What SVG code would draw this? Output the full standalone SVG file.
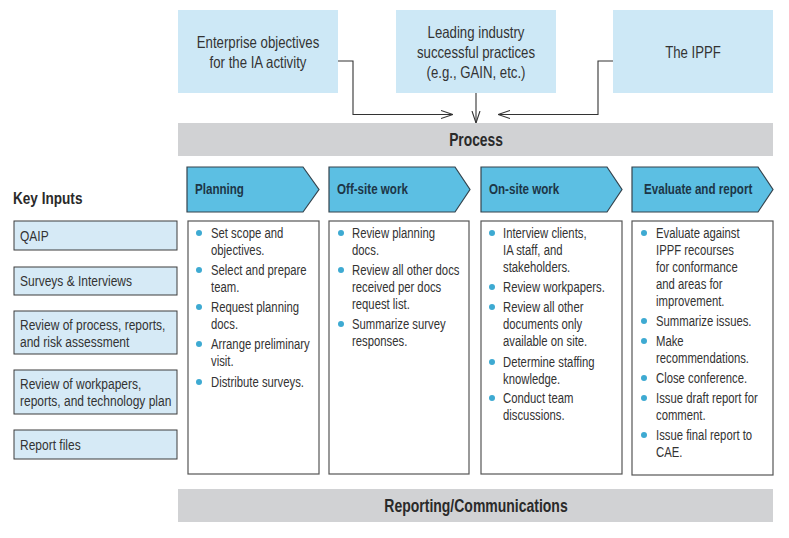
<svg xmlns="http://www.w3.org/2000/svg" width="789" height="538" viewBox="0 0 789 538">
<defs>
<style>
text{font-family:"Liberation Sans",Arial,sans-serif;fill:#333;}
.src{fill:#cde8f6;}
.bar{fill:#d1d2d4;}
.bt{font-size:17.5px;font-weight:bold;fill:#2a2a2a;text-anchor:middle;}
.st{font-size:16.5px;text-anchor:middle;fill:#333;}
.inp{fill:#d6eaf6;stroke:#3d3d3d;stroke-width:1;}
.it{font-size:15px;fill:#333;}
.hd{fill:#5cbfe3;stroke:#34434d;stroke-width:1.2;}
.ht{font-size:14.5px;font-weight:bold;fill:#1d3647;}
.box{fill:#fff;stroke:#555;stroke-width:1.2;}
.bx{font-size:14.5px;fill:#333;}
.dot{fill:#3eaad2;}
.ln{fill:none;stroke:#333;stroke-width:1.1;}
</style>
<marker id="ah" viewBox="0 0 12 10" refX="12" refY="5" markerWidth="12" markerHeight="10" markerUnits="userSpaceOnUse" orient="auto">
<path d="M0,1 L12,5 L0,9" fill="none" stroke="#333" stroke-width="1.1"/>
</marker>
</defs>
<rect width="789" height="538" fill="#fff"/>

<g id="enterprise">
<rect class="src" x="178" y="10" width="160" height="83"/>
<g transform="translate(258,0) scale(0.8,1)">
<text class="st" x="0" y="48">Enterprise objectives</text>
<text class="st" x="0" y="68">for the IA activity</text>
</g>
</g>
<g id="leading">
<rect class="src" x="396" y="10" width="160" height="83"/>
<g transform="translate(476,0) scale(0.8,1)">
<text class="st" x="0" y="38">Leading industry</text>
<text class="st" x="0" y="58">successful practices</text>
<text class="st" x="0" y="78">(e.g., GAIN, etc.)</text>
</g>
</g>
<g id="ippf">
<rect class="src" x="613" y="10" width="160" height="83"/>
<g transform="translate(693,0) scale(0.8,1)">
<text class="st" x="0" y="58">The IPPF</text>
</g>
</g>

<g id="process">
<rect class="bar" x="178" y="123" width="595" height="33"/>
<g transform="translate(476,0) scale(0.79,1)">
<text class="bt" x="0" y="146">Process</text>
</g>
</g>

<g id="connectors">
<path class="ln" d="M338,61 H353 V114.5 H453" marker-end="url(#ah)"/>
<path class="ln" d="M476,93 V123" marker-end="url(#ah)"/>
<path class="ln" d="M613,61 H598 V114.5 H498" marker-end="url(#ah)"/>
</g>

<g id="key-inputs">
<g transform="translate(13,0) scale(0.8,1)">
<text x="0" y="204" style="font-size:17px;font-weight:bold;fill:#2a2a2a;">Key Inputs</text>
</g>
</g>
<g id="qaip">
<rect class="inp" x="14" y="221" width="163" height="29"/>
<g transform="translate(20,0) scale(0.8,1)"><text class="it" x="0" y="241">QAIP</text></g>
</g>
<g id="surveys">
<rect class="inp" x="14" y="267" width="163" height="28"/>
<g transform="translate(20,0) scale(0.8,1)"><text class="it" x="0" y="286">Surveys &amp; Interviews</text></g>
</g>
<g id="review-process">
<rect class="inp" x="14" y="311" width="163" height="43"/>
<g transform="translate(20,0) scale(0.8,1)">
<text class="it" x="0" y="330">Review of process, reports,</text>
<text class="it" x="0" y="347">and risk assessment</text>
</g>
</g>
<g id="review-workpapers">
<rect class="inp" x="14" y="370" width="163" height="44"/>
<g transform="translate(20,0) scale(0.8,1)">
<text class="it" x="0" y="389">Review of workpapers,</text>
<text class="it" x="0" y="406">reports, and technology plan</text>
</g>
</g>
<g id="report-files">
<rect class="inp" x="14" y="430" width="163" height="29"/>
<g transform="translate(20,0) scale(0.8,1)"><text class="it" x="0" y="450">Report files</text></g>
</g>

<g id="planning">
<path class="hd" d="M187,167 H303 L319,189.5 L303,212 H187 Z"/>
<g transform="translate(195,0) scale(0.8,1)"><text class="ht" x="0" y="194">Planning</text></g>
<rect class="box" x="188" y="221" width="131" height="253"/>
<circle class="dot" cx="199" cy="233" r="3"/>
<circle class="dot" cx="199" cy="270" r="3"/>
<circle class="dot" cx="199" cy="307" r="3"/>
<circle class="dot" cx="199" cy="344" r="3"/>
<circle class="dot" cx="199" cy="382" r="3"/>
<g transform="translate(211,0) scale(0.78,1)">
<text class="bx" x="0" y="238">Set scope and</text>
<text class="bx" x="0" y="255">objectives.</text>
<text class="bx" x="0" y="275">Select and prepare</text>
<text class="bx" x="0" y="292">team.</text>
<text class="bx" x="0" y="312">Request planning</text>
<text class="bx" x="0" y="329">docs.</text>
<text class="bx" x="0" y="349">Arrange preliminary</text>
<text class="bx" x="0" y="366">visit.</text>
<text class="bx" x="0" y="387">Distribute surveys.</text>
</g>
</g>

<g id="offsite">
<path class="hd" d="M329,167 H455 L470,189.5 L455,212 H329 Z"/>
<g transform="translate(337,0) scale(0.8,1)"><text class="ht" x="0" y="194">Off-site work</text></g>
<rect class="box" x="329" y="221" width="140" height="253"/>
<circle class="dot" cx="341" cy="233" r="3"/>
<circle class="dot" cx="341" cy="270" r="3"/>
<circle class="dot" cx="341" cy="324" r="3"/>
<g transform="translate(352,0) scale(0.78,1)">
<text class="bx" x="0" y="238">Review planning</text>
<text class="bx" x="0" y="255">docs.</text>
<text class="bx" x="0" y="275">Review all other docs</text>
<text class="bx" x="0" y="292">received per docs</text>
<text class="bx" x="0" y="309">request list.</text>
<text class="bx" x="0" y="329">Summarize survey</text>
<text class="bx" x="0" y="346">responses.</text>
</g>
</g>

<g id="onsite">
<path class="hd" d="M481,167 H607 L622,189.5 L607,212 H481 Z"/>
<g transform="translate(489,0) scale(0.8,1)"><text class="ht" x="0" y="194">On-site work</text></g>
<rect class="box" x="481" y="221" width="141" height="253"/>
<circle class="dot" cx="492" cy="233" r="3"/>
<circle class="dot" cx="492" cy="287" r="3"/>
<circle class="dot" cx="492" cy="307" r="3"/>
<circle class="dot" cx="492" cy="362" r="3"/>
<circle class="dot" cx="492" cy="398" r="3"/>
<g transform="translate(503,0) scale(0.78,1)">
<text class="bx" x="0" y="238">Interview clients,</text>
<text class="bx" x="0" y="255">IA staff, and</text>
<text class="bx" x="0" y="272">stakeholders.</text>
<text class="bx" x="0" y="292">Review workpapers.</text>
<text class="bx" x="0" y="312">Review all other</text>
<text class="bx" x="0" y="329">documents only</text>
<text class="bx" x="0" y="346">available on site.</text>
<text class="bx" x="0" y="367">Determine staffing</text>
<text class="bx" x="0" y="384">knowledge.</text>
<text class="bx" x="0" y="403">Conduct team</text>
<text class="bx" x="0" y="420">discussions.</text>
</g>
</g>

<g id="evaluate">
<path class="hd" d="M632,167 H758 L773,189.5 L758,212 H632 Z"/>
<g transform="translate(644,0) scale(0.8,1)"><text class="ht" x="0" y="194">Evaluate and report</text></g>
<rect class="box" x="632" y="221" width="141" height="254"/>
<circle class="dot" cx="644" cy="233" r="3"/>
<circle class="dot" cx="644" cy="321" r="3"/>
<circle class="dot" cx="644" cy="341" r="3"/>
<circle class="dot" cx="644" cy="378" r="3"/>
<circle class="dot" cx="644" cy="398" r="3"/>
<circle class="dot" cx="644" cy="435" r="3"/>
<g transform="translate(656,0) scale(0.78,1)">
<text class="bx" x="0" y="238">Evaluate against</text>
<text class="bx" x="0" y="255">IPPF recourses</text>
<text class="bx" x="0" y="272">for conformance</text>
<text class="bx" x="0" y="289">and areas for</text>
<text class="bx" x="0" y="306">improvement.</text>
<text class="bx" x="0" y="326">Summarize issues.</text>
<text class="bx" x="0" y="346">Make</text>
<text class="bx" x="0" y="363">recommendations.</text>
<text class="bx" x="0" y="383">Close conference.</text>
<text class="bx" x="0" y="403">Issue draft report for</text>
<text class="bx" x="0" y="420">comment.</text>
<text class="bx" x="0" y="440">Issue final report to</text>
<text class="bx" x="0" y="457">CAE.</text>
</g>
</g>

<g id="reporting">
<rect class="bar" x="178" y="489" width="595" height="33"/>
<g transform="translate(476,0) scale(0.8,1)">
<text class="bt" x="0" y="512">Reporting/Communications</text>
</g>
</g>
</svg>
